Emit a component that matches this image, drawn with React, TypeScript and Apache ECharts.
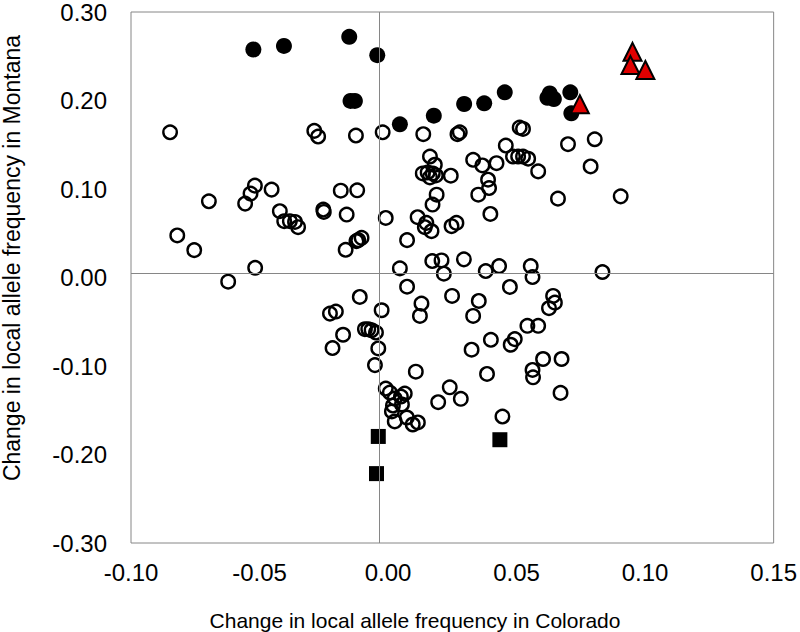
import React, { useEffect, useRef } from "react";
import * as echarts from "echarts";

// Hollow circles: loci with no significant change (x = Colorado, y = Montana)
const openCircles: [number, number][] = [
  [-0.0848, 0.1641], [-0.0287, 0.1657], [-0.0272, 0.1593], [-0.0125, 0.1604], [-0.0021, 0.1641],
  [0.0137, 0.1619], [0.027, 0.1619], [0.0279, 0.1641], [0.0458, 0.1491], [0.0512, 0.1694],
  [0.0525, 0.1679], [0.07, 0.1506], [0.0804, 0.1562],
  [-0.0697, 0.0861], [-0.0518, 0.1038], [-0.0535, 0.0948], [-0.0556, 0.0835], [-0.0453, 0.0993],
  [-0.0421, 0.0749], [-0.0404, 0.0636], [-0.0382, 0.0636], [-0.0362, 0.0628], [-0.035, 0.0568],
  [-0.0252, 0.0768], [-0.025, 0.0741], [-0.0184, 0.0981], [-0.012, 0.0985], [-0.0161, 0.0711],
  [-0.0009, 0.0673], [-0.0165, 0.0313], [-0.0123, 0.0411], [-0.0103, 0.0448], [-0.0116, 0.0422],
  [-0.082, 0.0475], [-0.0754, 0.0309], [-0.0517, 0.011], [-0.0622, -0.0047], [0.0046, 0.0103],
  [0.0163, 0.1367], [0.0182, 0.1274], [0.0135, 0.1176], [0.0154, 0.1187], [0.0174, 0.1176],
  [0.0163, 0.1131], [0.0186, 0.1153], [0.0244, 0.115], [0.0331, 0.133], [0.0367, 0.1266],
  [0.0422, 0.1292], [0.0486, 0.1367], [0.0506, 0.1367], [0.0525, 0.1367], [0.0545, 0.1342],
  [0.0584, 0.1199], [0.0788, 0.1255], [0.0389, 0.1105], [0.0393, 0.1011], [0.0351, 0.0936],
  [0.0189, 0.0936], [0.0173, 0.0824], [0.0661, 0.0891], [0.0905, 0.0917], [0.0398, 0.0718],
  [0.0115, 0.0681], [0.0149, 0.0617], [0.0143, 0.0568], [0.0169, 0.0523], [0.0247, 0.058],
  [0.0266, 0.0617], [0.0074, 0.0422], [0.0172, 0.0186], [0.0208, 0.0193], [0.0295, 0.0205],
  [0.0217, 0.0043], [0.038, 0.0073], [0.0432, 0.0129], [0.0555, 0.0129], [0.0562, 0.0005],
  [0.0834, 0.0062],
  [-0.011, -0.022], [-0.0226, -0.0408], [-0.0203, -0.0385], [-0.0025, -0.037], [-0.0175, -0.0647],
  [-0.0216, -0.0797], [-0.009, -0.0584], [-0.0077, -0.0584], [-0.0064, -0.0596], [-0.0047, -0.0622],
  [-0.0038, -0.0802], [-0.0051, -0.099],
  [0.0074, -0.0104], [0.013, -0.0295], [0.0124, -0.0434], [0.0249, -0.0208], [0.0353, -0.0265],
  [0.0331, -0.0434], [0.0474, -0.0107], [0.0642, -0.0208], [0.0649, -0.0284], [0.0626, -0.0347],
  [0.0542, -0.0546], [0.0584, -0.0546], [0.04, -0.0704], [0.0477, -0.076], [0.0493, -0.0696],
  [0.0325, -0.0816], [0.0108, -0.1064], [0.0385, -0.109], [0.0603, -0.0921], [0.0675, -0.0921],
  [0.0562, -0.1045], [0.0564, -0.1128], [0.0671, -0.1304], [0.024, -0.1241], [0.0283, -0.1371],
  [0.0195, -0.1409],
  [-0.0009, -0.1255], [0.0007, -0.13], [0.0026, -0.1368], [0.005, -0.1345], [0.0065, -0.1312],
  [0.0019, -0.1447], [0.0054, -0.1435], [0.0015, -0.1514], [0.0026, -0.1627], [0.0073, -0.1582],
  [0.0096, -0.1661], [0.0116, -0.1638], [0.0445, -0.1571],
];

// Filled circles
const filledCircles: [number, number][] = [
  [-0.0524, 0.2576], [-0.0405, 0.2617], [-0.0151, 0.2719], [-0.0042, 0.2512],
  [-0.0146, 0.1995], [-0.0129, 0.1995], [0.0046, 0.1731], [0.0178, 0.1829],
  [0.0296, 0.1961], [0.0374, 0.1968], [0.0454, 0.2092], [0.0629, 0.208],
  [0.0645, 0.2017], [0.062, 0.203], [0.0709, 0.2092], [0.0713, 0.1855],
];

// Filled squares
const squares: [number, number][] = [
  [-0.0038, -0.1796], [-0.0045, -0.2216], [0.0435, -0.1833],
];

// Red triangles
const triangles: [number, number][] = [
  [0.0951, 0.255], [0.0943, 0.24], [0.1001, 0.2344], [0.0746, 0.1957],
];

// Reference (crossing) lines as drawn in the figure
const crossX = -0.0035;
const crossY = 0.005;

const xTitle = "Change in local allele frequency in Colorado";
const yTitle = "Change in local allele frequency in Montana";

const FONT = "'Liberation Sans', Arial, sans-serif";

const fmt = (v: number) => (Math.abs(v) < 1e-9 ? "0.00" : v.toFixed(2));

export default function App() {
  const ref = useRef<HTMLDivElement>(null);

  useEffect(() => {
    if (!ref.current) return;
    const chart = echarts.init(ref.current, undefined, { renderer: "svg" });
    chart.setOption({
      animation: false,
      backgroundColor: "#ffffff",
      grid: {
        left: 131,
        right: 24,
        top: 10,
        bottom: 89,
        show: true,
        borderColor: "#868686",
        borderWidth: 1,
        backgroundColor: "#ffffff",
      },
      xAxis: {
        type: "value",
        min: -0.1,
        max: 0.15,
        interval: 0.05,
        axisLine: { show: false },
        axisTick: { show: false },
        splitLine: { show: false },
        axisLabel: {
          formatter: fmt,
          color: "#000",
          fontSize: 24,
          fontFamily: FONT,
          margin: 17,
        },
      },
      yAxis: {
        type: "value",
        min: -0.3,
        max: 0.3,
        interval: 0.1,
        axisLine: { show: false },
        axisTick: { show: false },
        splitLine: { show: false },
        axisLabel: {
          formatter: fmt,
          color: "#000",
          fontSize: 24,
          fontFamily: FONT,
          margin: 24,
        },
      },
      graphic: [
        {
          type: "text",
          x: 415,
          y: 620,
          style: {
            text: xTitle,
            fontSize: 21,
            fontFamily: FONT,
            fill: "#000",
            align: "center",
            verticalAlign: "middle",
          },
        },
        {
          type: "text",
          x: 12,
          y: 258,
          rotation: Math.PI / 2,
          style: {
            text: yTitle,
            fontSize: 23,
            fontFamily: FONT,
            fill: "#000",
            align: "center",
            verticalAlign: "middle",
          },
        },
      ],
      series: [
        {
          type: "scatter",
          data: openCircles,
          symbol: "circle",
          symbolSize: 13.5,
          itemStyle: { color: "rgba(0,0,0,0)", borderColor: "#000", borderWidth: 2.4, opacity: 1 },
          markLine: {
            silent: true,
            symbol: "none",
            precision: 5,
            label: { show: false },
            lineStyle: { color: "#868686", width: 1, type: "solid" },
            emphasis: { disabled: true },
            data: [{ xAxis: crossX }, { yAxis: crossY }],
          },
          z: 2,
        },
        {
          type: "scatter",
          data: filledCircles,
          symbol: "circle",
          symbolSize: 16,
          itemStyle: { color: "#000", opacity: 1 },
          z: 3,
        },
        {
          type: "scatter",
          data: squares,
          symbol: "rect",
          symbolSize: 15,
          itemStyle: { color: "#000", opacity: 1 },
          z: 3,
        },
        {
          type: "scatter",
          data: triangles,
          symbol: "triangle",
          symbolSize: 18,
          itemStyle: { color: "#e00000", borderColor: "#000", borderWidth: 2, opacity: 1 },
          z: 4,
        },
      ],
    });
    return () => chart.dispose();
  }, []);

  return (
    <div
      ref={ref}
      style={{ position: "fixed", left: 0, top: 0, width: 800, height: 632, background: "#fff" }}
    />
  );
}
